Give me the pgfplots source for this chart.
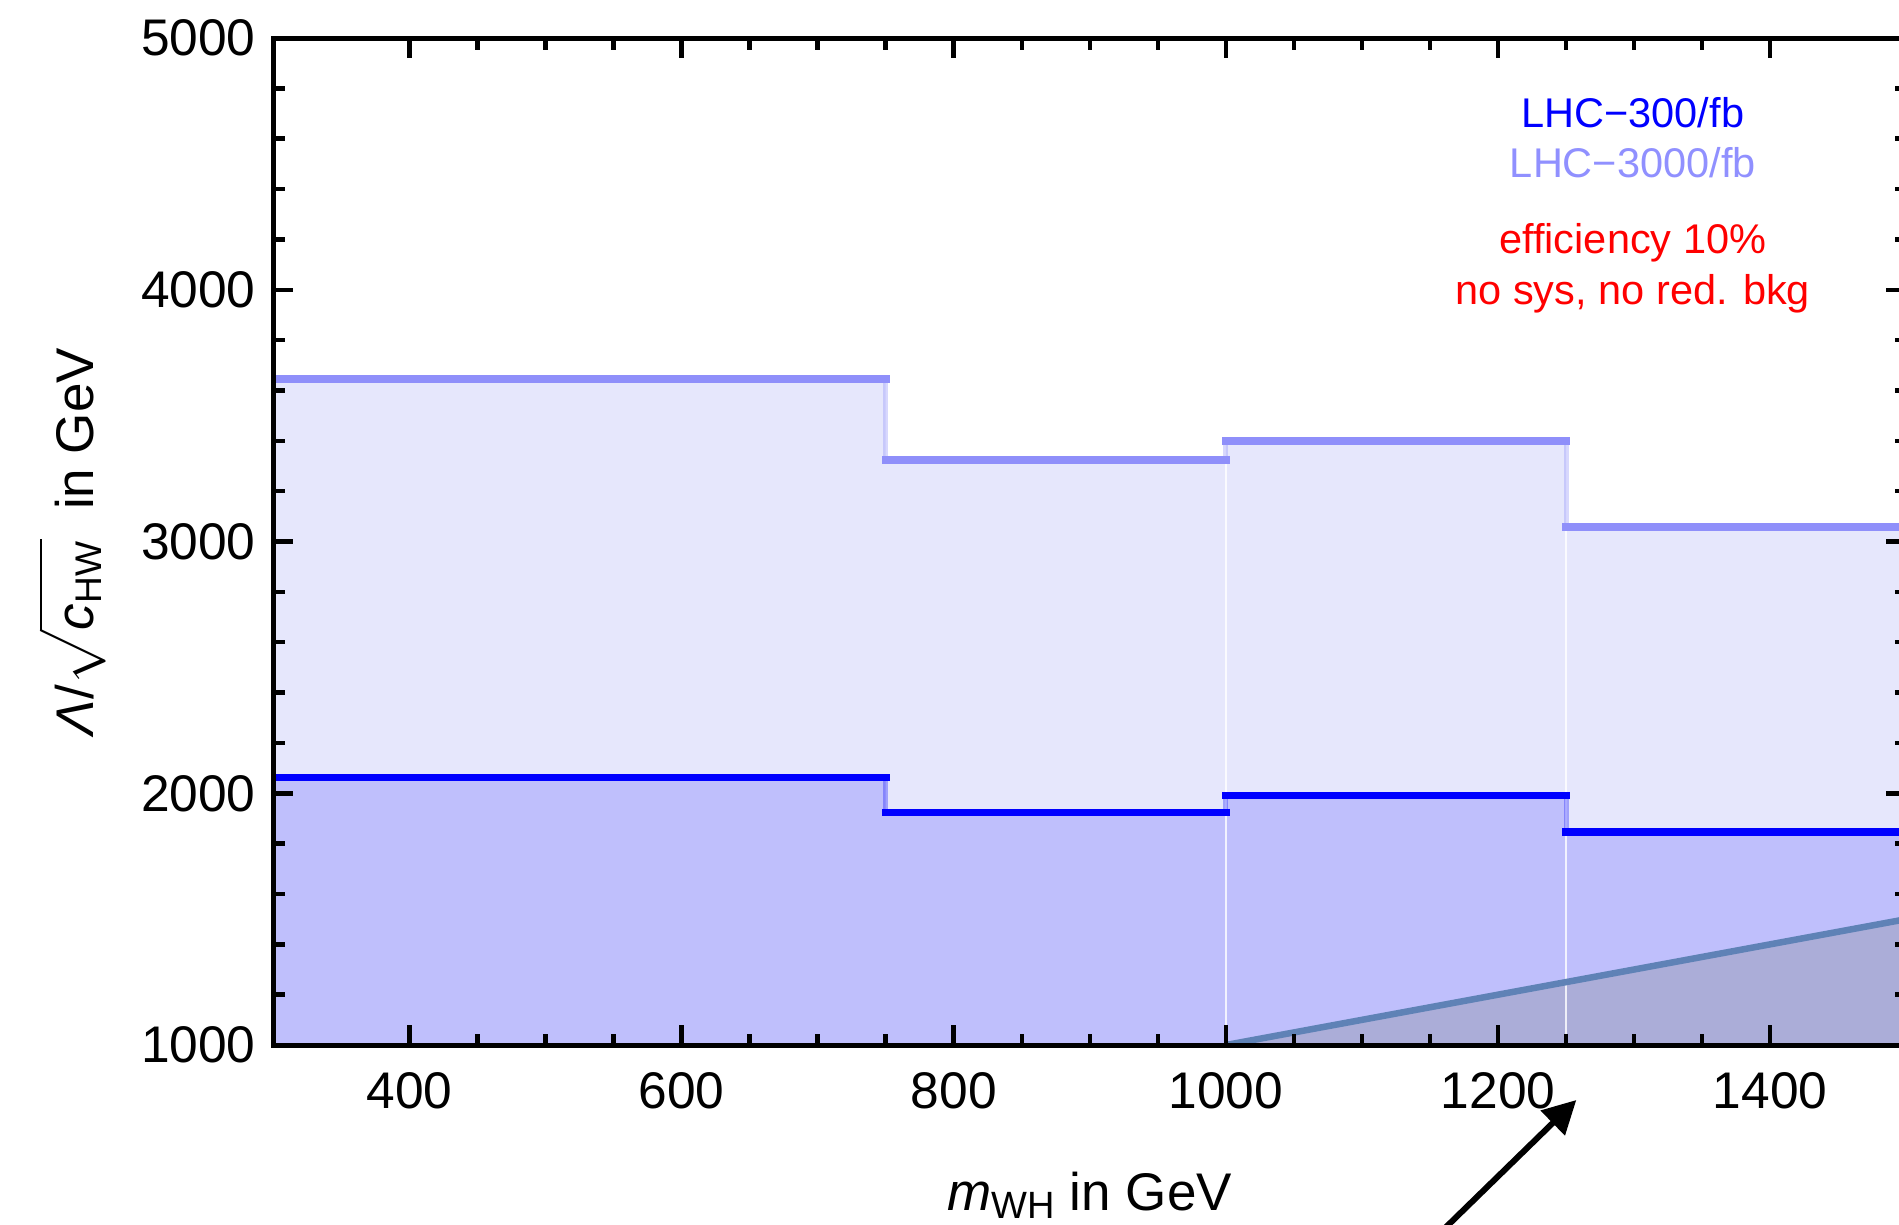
\documentclass[border=0pt]{standalone}
\usepackage{amsmath}
\usepackage{pgfplots}
\pgfplotsset{compat=1.18}
\usepackage{fontspec}
\setmainfont{Liberation Sans}
\usetikzlibrary{arrows.meta}
\definecolor{darkb}{RGB}{0,0,255}
\definecolor{lightb}{RGB}{143,143,250}
\definecolor{fillhi}{RGB}{230,231,252}
\definecolor{filllo}{RGB}{191,191,252}
\definecolor{diagfill}{RGB}{171,173,216}
\definecolor{diagline}{RGB}{95,130,182}
\definecolor{legl}{RGB}{144,144,255}
\begin{document}
\begin{tikzpicture}
\useasboundingbox (0,0) rectangle (379.8pt,244.8pt);
\clip (0,0) rectangle (379.8pt,244.8pt);
\begin{axis}[
  at={(54.66pt,35.8pt)}, anchor=south west,
  scale only axis, width=326.6pt, height=201.4pt,
  xmin=300, xmax=1500, ymin=1000, ymax=5000,
  xtick={400,600,...,1400}, ytick={1000,2000,...,5000},
  minor x tick num=3, minor y tick num=4,
  axis line style={line width=1pt},
  major tick length=4pt, minor tick length=2.3pt,
  tick style={black, line width=0.9pt},
  tick align=inside,
  /pgf/number format/assume math mode=true,
  /pgf/number format/1000 sep={},
  tick label style={font=\fontsize{10.3}{12}\selectfont},
  xticklabel style={yshift=-2pt},
  label style={font=\fontsize{10.6}{12}\selectfont},
  xlabel={\textit{m}\raisebox{-1.6pt}{\fontsize{7.6}{8}\selectfont WH} in GeV},
  ylabel={\textit{Λ}/$\sqrt{\rule[-1.5pt]{0pt}{10.5pt}\textit{c}_{\text{HW}}}$\ \ in GeV},
  xlabel style={at={(axis description cs:0.5,-0.109)}, anchor=north},
  ylabel style={at={(axis description cs:-0.11,0.5)}, anchor=base, inner sep=0pt},
  axis on top,
  unbounded coords=jump,
]
% 3000/fb region
\addplot[fill=fillhi, draw=none] coordinates {(300,1000)(300,3646)(750,3646)(750,3323)(1000,3323)(1000,3400)(1250,3400)(1250,3058)(1500,3058)(1500,1000)} -- cycle;
% 300/fb region
\addplot[fill=filllo, draw=none] coordinates {(300,1000)(300,2063)(750,2063)(750,1924)(1000,1924)(1000,1991)(1250,1991)(1250,1846)(1500,1846)(1500,1000)} -- cycle;
% diagonal region
\addplot[fill=diagfill, draw=none] coordinates {(1000,1000)(1500,1500)(1500,1000)} -- cycle;
% white seams
\addplot[white, line width=0.4pt, opacity=0.8] coordinates {(1000,1000)(1000,3323)};
\addplot[white, line width=0.4pt, opacity=0.8] coordinates {(1250,1000)(1250,3058)};
% vertical connectors
\addplot[lightb, line width=1pt, opacity=0.35] coordinates {(750,3646)(750,3323)(750,nan)(1000,3323)(1000,3400)(1000,nan)(1250,3400)(1250,3058)};
\addplot[darkb, line width=1pt, opacity=0.3] coordinates {(750,2063)(750,1924)(750,nan)(1000,1924)(1000,1991)(1000,nan)(1250,1991)(1250,1846)};
% horizontal step lines
\addplot[lightb, line width=1.65pt, line cap=rect] coordinates {(300,3646)(750,3646)(750,nan)(750,3323)(1000,3323)(1000,nan)(1000,3400)(1250,3400)(1250,nan)(1250,3058)(1500,3058)};
\addplot[darkb, line width=1.55pt, line cap=rect] coordinates {(300,2063)(750,2063)(750,nan)(750,1924)(1000,1924)(1000,nan)(1000,1991)(1250,1991)(1250,nan)(1250,1846)(1500,1846)};
% diagonal line
\addplot[diagline, line width=1.3pt] coordinates {(1000,1000)(1500,1500)};
% annotations
\node[font=\fontsize{8.3}{10}\selectfont, text=darkb, anchor=base] at (axis cs:1299,4646) {LHC−300/fb};
\node[font=\fontsize{8.3}{10}\selectfont, text=legl, anchor=base] at (axis cs:1299,4444) {LHC−3000/fb};
\node[font=\fontsize{8.3}{10}\selectfont, text=red, anchor=base] at (axis cs:1299,4146) {efficiency 10\%};
\node[font=\fontsize{8.3}{10}\selectfont, text=red, anchor=base] at (axis cs:1299,3943) {no sys, no red. bkg};
\coordinate (tip) at (axis cs:1257.5,781.5);
\coordinate (tail) at (axis cs:1136,141);
\end{axis}
\draw[line width=1.2pt, -{Triangle[length=6.6pt, width=6.7pt]}] (tail) -- (tip);
\end{tikzpicture}
\end{document}
